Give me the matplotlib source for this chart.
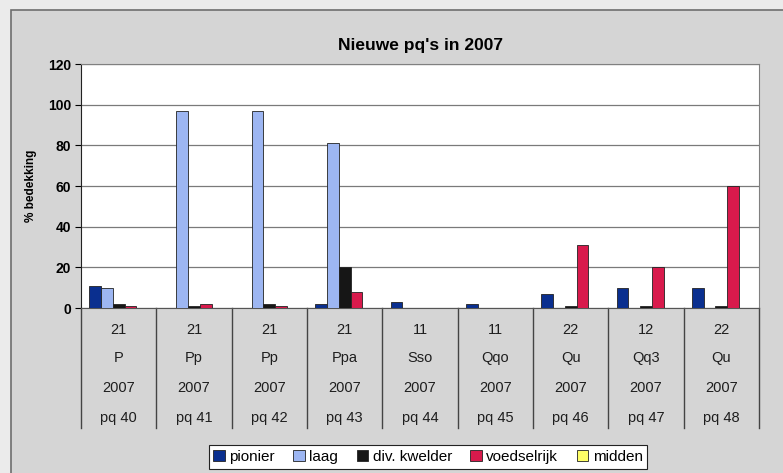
import numpy as np
import matplotlib
matplotlib.use("Agg")
import matplotlib.pyplot as plt
from matplotlib.patches import Rectangle, Patch

plt.rcParams['font.family'] = ['Liberation Sans', 'DejaVu Sans']

# data
codes = ["21", "21", "21", "21", "11", "11", "22", "12", "22"]
types = ["P", "Pp", "Pp", "Ppa", "Sso", "Qqo", "Qu", "Qq3", "Qu"]
years = ["2007"] * 9
pqs = ["pq 40", "pq 41", "pq 42", "pq 43", "pq 44", "pq 45", "pq 46", "pq 47", "pq 48"]

series = ["pionier", "laag", "div. kwelder", "voedselrijk", "midden"]
pionier = [11, 0, 0, 2, 3, 2, 7, 10, 10]
laag = [10, 97, 97, 81, 0, 0, 0, 0, 0]
div_kwelder = [2, 1, 2, 20, 0, 0, 1, 1, 1]
voedselrijk = [1, 2, 1, 8, 0, 0, 31, 20, 60]
midden = [0, 0, 0, 0, 0, 0, 0, 0, 0]
values = [pionier, laag, div_kwelder, voedselrijk, midden]
colors = ["#0a2f8f", "#9db6f2", "#161616", "#d81a4c", "#ffff66"]

fig = plt.figure(figsize=(7.83, 4.73), dpi=100, facecolor="#ebebeb")
# grey chart background with frame
fig.patches.append(Rectangle((11 / 783, -0.05), 1.1, 1 - 10 / 473 + 0.05,
                             transform=fig.transFigure, facecolor="#d5d5d5",
                             edgecolor="#6e6e6e", linewidth=1.2, zorder=-10))

ax = fig.add_axes([81 / 783, 1 - 308 / 473, 678 / 783, 244 / 473])
ax.set_facecolor("white")

x = np.arange(len(pqs))
w = 0.155
for i, (name, vals, c) in enumerate(zip(series, values, colors)):
    ax.bar(x + (i - 2) * w, vals, w, color=c, edgecolor="#222222",
           linewidth=0.6, label=name, zorder=3)

ax.set_xlim(-0.5, len(pqs) - 0.5)
ax.set_ylim(0, 120)
ax.set_yticks(np.arange(0, 121, 20))
ax.yaxis.grid(True, color="#7a7a7a", linewidth=0.9)
ax.set_axisbelow(True)
ax.tick_params(axis='y', labelsize=10, length=4, width=0.8, pad=3)
for t in ax.get_yticklabels():
    t.set_fontweight("bold")
ax.set_xticks([])
for s in ["top", "right"]:
    ax.spines[s].set_color("#808080")
ax.spines["left"].set_color("#222222")
ax.spines["bottom"].set_color("#555555")

ax.set_ylabel("% bedekking", fontsize=8.5, fontweight="bold", labelpad=8)
ax.set_title("Nieuwe pq's in 2007", fontsize=12.5, fontweight="bold", pad=10)

# multi-level category labels
tr = ax.get_xaxis_transform()
rows = [codes, types, years, pqs]
row_y = [-0.090, -0.205, -0.328, -0.451]
for labels, yy in zip(rows, row_y):
    for xi, lab in zip(x, labels):
        ax.text(xi, yy, lab, transform=tr, ha="center", va="center",
                fontsize=10.5, color="#1e1e1e")
for b in np.arange(-0.5, len(pqs), 1.0):
    ax.plot([b, b], [0, -0.492], transform=tr, color="#444444",
            linewidth=1.0, clip_on=False)

handles = [Patch(facecolor=c, edgecolor="#222222", linewidth=0.6) for c in colors]
leg = fig.legend(handles, series, loc="center", ncol=5,
                 bbox_to_anchor=(428 / 783, 1 - 457 / 473), fontsize=11,
                 handlelength=0.75, handleheight=0.75, handletextpad=0.3,
                 columnspacing=1.2, fancybox=False, framealpha=1,
                 borderpad=0.3, edgecolor="#222222")
leg.get_frame().set_linewidth(0.8)

fig.savefig("out.png", dpi=100, facecolor=fig.get_facecolor())
